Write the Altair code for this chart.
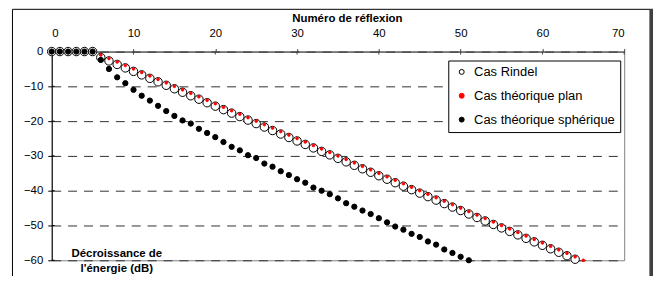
import altair as alt
import pandas as pd

# ---- data ----
series = ["Cas Rindel", "Cas théorique plan", "Cas théorique sphérique"]

reflexions_rindel = list(range(0, 65))
rindel = [0, 0, 0, 0, 0, 0,
          -1.7, -2.7, -3.7, -4.7, -5.7, -6.7, -7.7, -8.7, -9.7, -10.7,
          -11.7, -12.7, -13.7, -14.7, -15.7, -16.7, -17.7, -18.7, -19.7, -20.7,
          -21.7, -22.7, -23.7, -24.7, -25.7, -26.7, -27.7, -28.7, -29.7, -30.7,
          -31.7, -32.7, -33.7, -34.7, -35.7, -36.7, -37.7, -38.7, -39.7, -40.7,
          -41.7, -42.7, -43.7, -44.7, -45.7, -46.7, -47.7, -48.7, -49.7, -50.7,
          -51.7, -52.7, -53.7, -54.7, -55.7, -56.7, -57.7, -58.7, -59.7]

reflexions_plan = list(range(0, 66))
plan = [0, 0, 0, 0, 0, 0,
        -1, -2, -3, -4, -5, -6, -7, -8, -9, -10,
        -11, -12, -13, -14, -15, -16, -17, -18, -19, -20,
        -21, -22, -23, -24, -25, -26, -27, -28, -29, -30,
        -31, -32, -33, -34, -35, -36, -37, -38, -39, -40,
        -41, -42, -43, -44, -45, -46, -47, -48, -49, -50,
        -51, -52, -53, -54, -55, -56, -57, -58, -59, -60]

reflexions_sph = list(range(0, 52))
spherique = [0, 0, 0, 0, 0, 0,
             -2.4, -5.0, -7.4, -9.1, -11.0, -12.7, -14.1, -15.6, -17.1, -18.5,
             -19.8, -20.7, -22.2, -23.4, -24.6, -26.0, -27.4, -28.4, -29.8, -30.6,
             -32.2, -33.1, -34.4, -35.5, -36.7, -37.7, -39.1, -40.0, -41.0, -42.2,
             -43.6, -44.6, -45.7, -46.7, -47.9, -49.1, -50.3, -51.2, -52.4, -53.3,
             -54.6, -55.5, -56.9, -57.9, -59.0, -60.0]

x_ticks = [0, 10, 20, 30, 40, 50, 60, 70]
y_ticks = [0, -10, -20, -30, -40, -50, -60]

x_title = "Numéro de réflexion"
y_title = ["Décroissance de", "l'énergie (dB)"]

# ---- tables ----
rows = []
for k, (xs, ys) in enumerate([(reflexions_rindel, rindel),
                              (reflexions_plan, plan),
                              (reflexions_sph, spherique)]):
    for n, v in zip(xs, ys):
        rows.append({"n": n, "db": v, "serie": series[k]})
df = pd.DataFrame(rows)

FONT = "Liberation Sans"
W, H = 576, 210
x_scale = alt.Scale(domain=[0, 70], nice=False, zero=False)
y_scale = alt.Scale(domain=[-60, 0], nice=False, zero=False)

legend = alt.Legend(
    orient="none", legendX=399, legendY=9, direction="vertical",
    title=None, fillColor="white", strokeColor="black", padding=5,
    labelFont=FONT, labelFontSize=13, labelColor="black",
    labelOffset=6, rowPadding=10, symbolType="circle", symbolSize=25,
    symbolStrokeWidth=1, symbolOffset=2,
)

x_axis = alt.Axis(
    orient="top", values=x_ticks, format="d", grid=False,
    domainColor="#404040", domainWidth=1, tickColor="#404040",
    tickSize=3, labelFont=FONT, labelFontSize=11.5, labelColor="black",
    labelBaseline="alphabetic", labelPadding=11.7, labelOverlap=False,
    title=x_title, titleFont=FONT, titleFontSize=11.5,
    titleFontWeight="bold", titleColor="black",
    titleX=297, titleY=-30.7, titleAlign="center",
    titleBaseline="alphabetic", titleAngle=0,
)
y_axis = alt.Axis(
    orient="left", values=y_ticks, format="d", labelOverlap=False,
    grid=True, gridColor="#303030", gridDash=[9, 7], gridWidth=1,
    domainColor="black", domainWidth=1, tickColor="black", tickSize=4,
    labelFont=FONT, labelFontSize=11.5, labelColor="black", labelPadding=5,
    title=y_title, titleFont=FONT, titleFontSize=11.5,
    titleFontWeight="bold", titleColor="black",
    titleAngle=0, titleX=65, titleY=206, titleAlign="center",
    titleBaseline="alphabetic", titleLineHeight=15,
)

fill_enc = alt.Fill("serie:N", scale=alt.Scale(domain=series, range=["white", "#ff0000", "black"]), legend=legend)
stroke_enc = alt.Stroke("serie:N", scale=alt.Scale(domain=series, range=["black", "#ff0000", "black"]), legend=legend)

sizes = [72, 7, 28]
layers = []
for k, s in enumerate(series):
    layers.append(
        alt.Chart(df).transform_filter(alt.datum.serie == s)
        .mark_point(filled=True, strokeWidth=1, opacity=1, size=sizes[k])
        .encode(
            x=alt.X("n:Q", scale=x_scale, axis=x_axis),
            y=alt.Y("db:Q", scale=y_scale, axis=y_axis),
            fill=fill_enc, stroke=stroke_enc,
        )
    )

# inner half of the crossing ticks
xt = pd.DataFrame({"t": x_ticks})
inner_x = alt.Chart(xt).mark_rule(color="#404040", strokeWidth=1).encode(
    x=alt.X("t:Q", scale=x_scale, axis=x_axis),
    y=alt.value(0), y2=alt.value(3),
)
yt = pd.DataFrame({"t": y_ticks})
inner_y = alt.Chart(yt).mark_rule(color="black", strokeWidth=1).encode(
    y=alt.Y("t:Q", scale=y_scale, axis=y_axis),
    x=alt.value(0), x2=alt.value(3),
)

# outer chart frame
one = pd.DataFrame({"a": [0]})
frame = alt.Chart(one).mark_rect(fillOpacity=0, stroke="black", strokeWidth=1).encode(
    x=alt.value(-39.5), x2=alt.value(602), y=alt.value(-42.5), y2=alt.value(300),
)
frame_right = alt.Chart(one).mark_rule(color="#404040", strokeWidth=3).encode(
    x=alt.value(603.5), y=alt.value(-43), y2=alt.value(300),
)

chart = alt.layer(frame, frame_right, inner_x, inner_y, *layers).properties(
    width=W, height=H,
    autosize=alt.AutoSizeParams(type="none"),
    padding={"left": 44, "top": 43, "right": 32, "bottom": 15},
    background="white",
).configure_view(stroke="#808080", strokeWidth=1)

chart.save("out.html", embed_options={"renderer": "svg", "actions": False})
